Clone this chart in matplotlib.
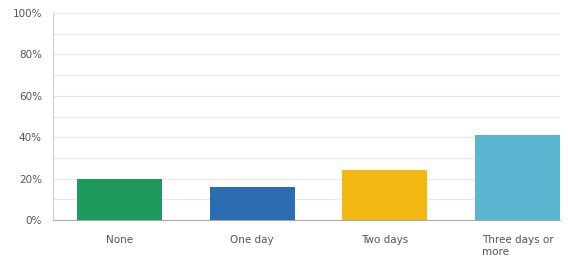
import matplotlib.pyplot as plt
from matplotlib.ticker import MultipleLocator, PercentFormatter

categories = ['None', 'One day', 'Two days', 'Three days or\nmore']
values = [20, 16, 24, 41]
colors = ['#1e9a5c', '#2a6db3', '#f2b711', '#5ab5d0']

fig = plt.figure(figsize=(5.68, 2.66), dpi=100)
ax = fig.add_axes([53/568, 46/266, (560-53)/568, (220-13)/266])

x = range(len(categories))
ax.bar(x, values, width=0.64, color=colors, zorder=3)

ax.set_ylim(0, 100)
ax.set_xlim(-0.5, 3.32)
ax.yaxis.set_major_locator(MultipleLocator(20))
ax.yaxis.set_minor_locator(MultipleLocator(10))
ax.yaxis.set_major_formatter(PercentFormatter(decimals=0))
ax.grid(axis='y', which='both', color='#e8e8e8', linewidth=0.8, zorder=0)

ax.set_xticks(list(x))
ax.set_xticklabels(categories, multialignment='left')
ax.tick_params(axis='both', length=0, labelsize=7.5, colors='#555555')
ax.tick_params(axis='x', pad=11)
ax.tick_params(axis='y', pad=8, which='major')
ax.tick_params(axis='y', which='minor', length=0)

for s in ['top', 'right']:
    ax.spines[s].set_visible(False)
ax.spines['left'].set_color('#d0d0d0')
ax.spines['bottom'].set_color('#aaaaaa')
ax.spines['left'].set_linewidth(0.8)
ax.spines['bottom'].set_linewidth(0.8)

fig.savefig('out.png', dpi=100)
